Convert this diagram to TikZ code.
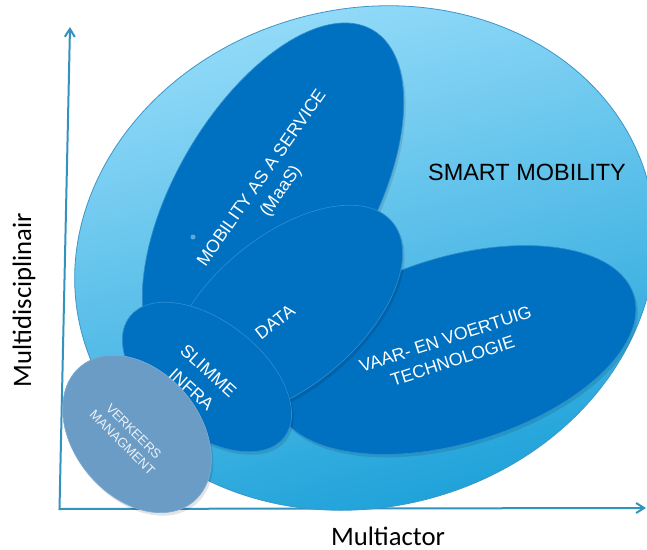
\documentclass[tikz,border=0pt]{standalone}
\usepackage{fontspec}
\setmainfont{Liberation Sans}
\newfontfamily\calibri{Carlito}
\usetikzlibrary{arrows.meta}

\definecolor{axisblue}{RGB}{52,146,190}
\definecolor{skytop}{RGB}{146,218,248}
\definecolor{skybottom}{RGB}{22,158,215}
\definecolor{skyedge}{RGB}{60,150,200}
\definecolor{deepblue}{RGB}{0,112,192}
\definecolor{deepedge}{RGB}{45,140,208}
\definecolor{steel}{RGB}{106,156,198}
\definecolor{steeledge}{RGB}{125,172,212}
\definecolor{vmtext}{RGB}{236,241,246}
\definecolor{dotblue}{RGB}{90,170,225}

\begin{document}
\begin{tikzpicture}[x=0.75pt,y=-0.75pt,
  blob/.style={fill=deepblue,draw=deepedge,line width=0.5pt},
  blobshadow/.style={fill=black,opacity=0.11},
  inlabel/.style={text=white,font=\fontsize{13.3}{17.3}\selectfont,align=center,inner sep=0pt},
  axislabel/.style={text=black,font=\calibri\fontsize{20}{24}\selectfont,inner sep=0pt},
  axisline/.style={draw=axisblue,line width=1.5pt,line join=miter,
    {Straight Barb[length=6pt,width=7.5pt]}-{Straight Barb[length=6pt,width=7.5pt]}}]

\useasboundingbox (0,0) rectangle (647,550);

% axes
\coordinate (origin) at (59.5,509);
\coordinate (ytip) at (70,27);
\coordinate (xtip) at (646,508);
\draw[axisline] (ytip) -- (origin) -- (xtip);

% outer field: smart mobility
\shadedraw[draw=skyedge,line width=0.6pt,rotate around={15:(365,258)},
  top color=skytop,bottom color=skybottom,shading angle=15]
  (365,258) ellipse [x radius=293, y radius=249];

% mobility as a service
\fill[blobshadow,shift={(2,3)},rotate around={59.6:(273,200)}]
  (273,200) ellipse [x radius=197, y radius=98];
\path[blob,rotate around={59.6:(273,200)}]
  (273,200) ellipse [x radius=197, y radius=98];

% vessel and vehicle technology
\fill[blobshadow,shift={(2,3)},rotate around={17:(455,350)}]
  (455,350) ellipse [x radius=187, y radius=93];
\path[blob,rotate around={17:(455,350)}]
  (455,350) ellipse [x radius=187, y radius=93];

% data
\fill[blobshadow,shift={(2,3)},rotate around={40:(285,312)}]
  (285,312) ellipse [x radius=140, y radius=75];
\path[blob,rotate around={40:(285,312)}]
  (285,312) ellipse [x radius=140, y radius=75];

% smart infrastructure
\fill[blobshadow,shift={(2,3)},rotate around={-38:(207,377)}]
  (207,377) ellipse [x radius=98, y radius=56];
\path[blob,rotate around={-38:(207,377)}]
  (207,377) ellipse [x radius=98, y radius=56];

% traffic management
\fill[blobshadow,shift={(2,3)},rotate around={-50:(137,434)}]
  (137,434) ellipse [x radius=88, y radius=63];
\path[fill=steel,draw=steeledge,line width=0.5pt,rotate around={-50:(137,434)}]
  (137,434) ellipse [x radius=88, y radius=63];

\fill[dotblue] (193,237) circle [radius=2.5];

% labels
\node[inlabel,rotate=55] (maas) at (272,185) {MOBILITY AS A SERVICE\\(MaaS)};
\node[inlabel,rotate=38] (data) at (275,322) {DATA};
\node[inlabel,rotate=-42,font=\fontsize{13.3}{19}\selectfont] (infra) at (200,380) {SLIMME\\INFRA};
\node[inlabel,rotate=18] (vaar) at (449,350) {VAAR- EN VOERTUIG\\TECHNOLOGIE};
\node[inlabel,rotate=-45,text=vmtext,font=\fontsize{9.9}{12}\selectfont] (vm) at (128,437) {VERKEERS\\MANAGMENT};
\node[font=\fontsize{17.6}{20}\selectfont,inner sep=0pt] (smart) at (527,172) {SMART MOBILITY};
\node[axislabel,rotate=90] (ylabel) at (24,300) {Multidisciplinair};
\node[axislabel] (xlabel) at (388,536) {Multiactor};
\end{tikzpicture}
\end{document}
